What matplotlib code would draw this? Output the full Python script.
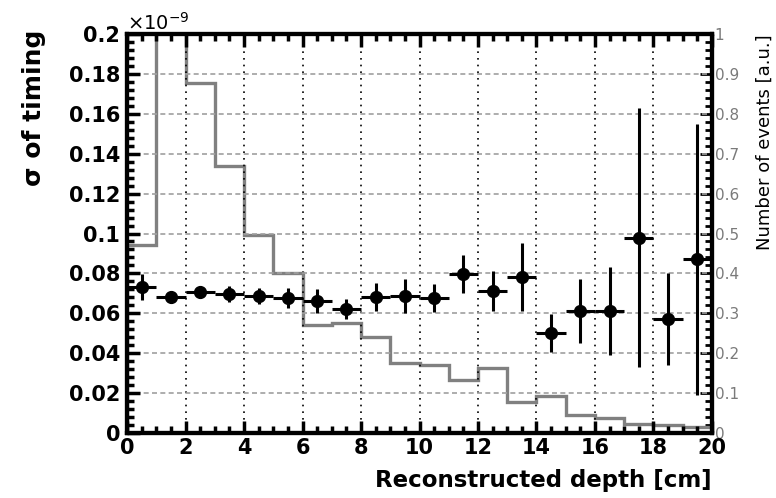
import numpy as np
import matplotlib
matplotlib.use("Agg")
import matplotlib.pyplot as plt
from matplotlib.ticker import MultipleLocator, FuncFormatter

plt.rcParams['font.family'] = ['DejaVu Sans']

# sigma of timing per depth bin (x 1e-9)
depth = [0.5, 1.5, 2.5, 3.5, 4.5, 5.5, 6.5, 7.5, 8.5, 9.5,
         10.5, 11.5, 12.5, 13.5, 14.5, 15.5, 16.5, 17.5, 18.5, 19.5]
sigma = [0.073, 0.068, 0.0705, 0.0697, 0.0685, 0.0676, 0.066, 0.062, 0.068, 0.0688,
         0.0677, 0.0797, 0.0712, 0.078, 0.050, 0.061, 0.061, 0.098, 0.057, 0.087]
sigma_err = [0.0065, 0.003, 0.003, 0.004, 0.004, 0.005, 0.006, 0.005, 0.007, 0.0085,
             0.007, 0.0095, 0.010, 0.017, 0.0095, 0.016, 0.022, 0.065, 0.023, 0.068]
depth_err = [0.5] * len(depth)

# normalised event counts, 1 cm bins
bin_edges = list(range(0, 21))
n_events = [0.47, 1.2, 0.877, 0.67, 0.496, 0.40, 0.27, 0.276, 0.24, 0.175,
            0.17, 0.133, 0.163, 0.077, 0.093, 0.045, 0.038, 0.022, 0.02, 0.015]

fig = plt.figure(figsize=(7.76, 4.98), dpi=100)
ax = fig.add_axes([0.1637, 0.1305, 0.7538, 0.8012])
ax2 = ax.twinx()

#-----------histogram (right axis)--------------
ax2.stairs(n_events, bin_edges, color='#808080', lw=2.4, baseline=0, zorder=2)
ax2.set_ylim(0, 1)
ax2.yaxis.set_major_locator(MultipleLocator(0.1))
ax2.yaxis.set_minor_locator(MultipleLocator(0.02))
ax2.yaxis.set_major_formatter(FuncFormatter(lambda v, p: "%g" % round(v, 2)))
ax2.tick_params(axis='y', which='major', direction='in', length=9, width=2,
                labelsize=11, labelcolor='#7a7a7a', pad=2)
ax2.tick_params(axis='y', which='minor', direction='in', length=5, width=2)
ax2.set_ylabel("Number of events [a.u.]", fontsize=13)
ax2.yaxis.set_label_coords(1.075, 1.0)
ax2.yaxis.label.set_va('top')
ax2.yaxis.label.set_ha('right')

#-----------sigma points (left axis)--------------
ax.set_zorder(ax2.get_zorder() + 1)
ax.patch.set_visible(False)
ax.errorbar(depth, sigma, xerr=depth_err, yerr=sigma_err, fmt='o', color='black',
            ms=8.5, elinewidth=2.2, capsize=0, zorder=3)
ax.set_xlim(0, 20)
ax.set_ylim(0, 0.2)

ax.xaxis.set_major_locator(MultipleLocator(2))
ax.xaxis.set_minor_locator(MultipleLocator(0.5))
ax.yaxis.set_major_locator(MultipleLocator(0.02))
ax.yaxis.set_minor_locator(MultipleLocator(0.004))
ax.yaxis.set_major_formatter(FuncFormatter(lambda v, p: "%g" % round(v, 3)))
ax.xaxis.set_major_formatter(FuncFormatter(lambda v, p: "%g" % v))
ax.tick_params(which='major', direction='in', length=9, width=2.5,
               labelsize=15, top=True)
ax.tick_params(which='minor', direction='in', length=5, width=2.5, top=True)
ax.tick_params(axis='y', pad=5)
for lab in ax.get_xticklabels() + ax.get_yticklabels():
    lab.set_fontweight('bold')

# grid: dashed grey horizontal, dotted black vertical
ax.yaxis.grid(True, which='major', ls=(0, (3, 2)), color='#a0a0a0', lw=1.2)
ax.xaxis.grid(True, which='major', ls=(0, (1, 3)), color='black', lw=1.2)

for sp in ax.spines.values():
    sp.set_linewidth(3)
for sp in ax2.spines.values():
    sp.set_linewidth(3)

ax.set_xlabel("Reconstructed depth [cm]", fontsize=16.5, fontweight='bold')
ax.xaxis.set_label_coords(1.0, -0.09)
ax.xaxis.label.set_ha('right')
ax.set_ylabel("σ of timing", fontsize=18, fontweight='bold')
ax.yaxis.set_label_coords(-0.18, 1.012)
ax.yaxis.label.set_va('top')
ax.yaxis.label.set_ha('right')

ax.text(0.0, 1.0, r"$\times$10$^{-9}$", transform=ax.transAxes,
        fontsize=14, ha='left', va='bottom')

plt.savefig("out.png", dpi=100)
